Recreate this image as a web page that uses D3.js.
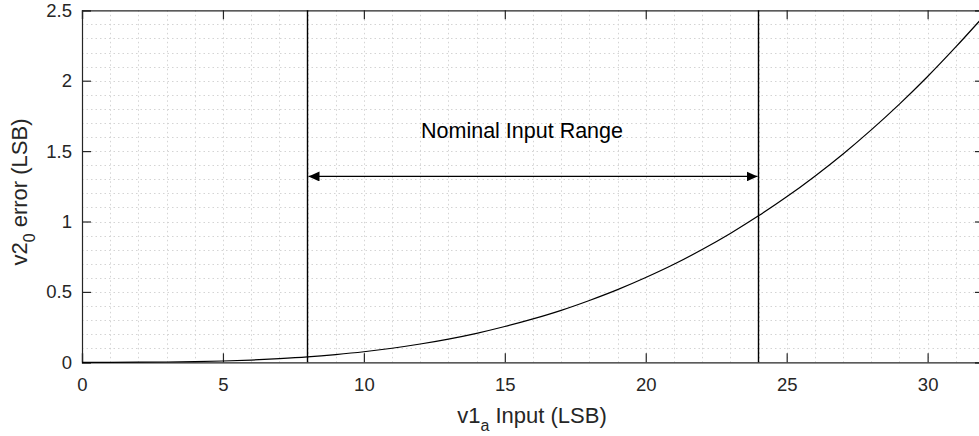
<!DOCTYPE html>
<html>
<head>
<meta charset="utf-8">
<script src="https://cdn.jsdelivr.net/npm/d3@7"></script>
<style>
  body { margin: 0; background: #fff; }
  text { font-family: "Liberation Sans", Arial, sans-serif; fill: #262626; }
</style>
</head>
<body>
<script>
// values
const xInput = [0, 1, 2, 3, 4, 5, 6, 7, 8, 9, 10, 11, 12, 13, 14, 15, 16,
    17, 18, 19, 20, 21, 22, 23, 24, 25, 26, 27, 28, 29, 30, 31, 32];
const errLsb = [0, 0.0001, 0.0006, 0.002, 0.0048, 0.0094, 0.016, 0.026, 0.0385,
    0.055, 0.075, 0.100, 0.130, 0.165, 0.206, 0.254, 0.308, 0.369, 0.439, 0.516,
    0.602, 0.696, 0.801, 0.915, 1.04, 1.175, 1.322, 1.48, 1.651, 1.834, 2.03, 2.24, 2.46];
const xTicks = [0, 5, 10, 15, 20, 25, 30];
const yTicks = [0, 0.5, 1, 1.5, 2, 2.5];
const rangeEdges = [8, 24];
const arrowLevel = 1.32;
const labelLevel = 1.59;

let width = 979;
let height = 436;

let svg = d3.select("body")
    .append("svg")
    .attr("width", width)
    .attr("height", height);

let x = d3.scaleLinear().domain([0, 32]).range([82, 984]);
let y = d3.scaleLinear().domain([0, 2.5]).range([362.3, 10.3]);

let x0 = x.range()[0], x1 = x.range()[1];
let y0 = y.range()[0], y1 = y.range()[1];

// minor grid (dotted)
let grid = svg.append("g")
    .attr("stroke", "#d4d4d4")
    .attr("stroke-width", 1)
    .attr("stroke-dasharray", "1.5,3");

grid.selectAll("line.gx")
    .data(d3.range(1, 32))
    .enter()
    .append("line")
    .attr("x1", d => Math.round(x(d)) + 0.5)
    .attr("x2", d => Math.round(x(d)) + 0.5)
    .attr("y1", y1)
    .attr("y2", y0);

grid.selectAll("line.gy")
    .data(d3.range(1, 25).map(d => d / 10))
    .enter()
    .append("line")
    .attr("x1", x0)
    .attr("x2", x1)
    .attr("y1", d => Math.round(y(d)) + 0.5)
    .attr("y2", d => Math.round(y(d)) + 0.5);

// axes
let tickLen = -9;
let tickFont = 18.5;
svg.append("g")
    .attr("transform", "translate(0," + y0 + ")")
    .call(d3.axisBottom(x).tickValues(xTicks).tickSize(tickLen).tickPadding(15.5).tickFormat(d3.format("")))
    .call(g => g.selectAll("text").attr("font-size", tickFont));

svg.append("g")
    .attr("transform", "translate(0," + y1 + ")")
    .call(d3.axisTop(x).tickValues(xTicks).tickSize(tickLen).tickFormat(""));

svg.append("g")
    .attr("transform", "translate(" + x0 + ",0)")
    .call(d3.axisLeft(y).tickValues(yTicks).tickSize(tickLen).tickPadding(10).tickFormat(d3.format("")))
    .call(g => g.selectAll("text").attr("font-size", tickFont));

svg.append("g")
    .attr("transform", "translate(" + x1 + ",0)")
    .call(d3.axisRight(y).tickValues(yTicks).tickSize(tickLen).tickFormat(""));

svg.selectAll(".domain, .tick line")
    .attr("stroke", "#262626")
    .attr("stroke-width", 1.2);
svg.selectAll(".tick text")
    .attr("font-family", "Liberation Sans, Arial, sans-serif")
    .style("fill", "#262626");

// curve
let line = d3.line()
    .x((d, i) => x(xInput[i]))
    .y(d => y(d))
    .curve(d3.curveMonotoneX);

svg.append("path")
    .datum(errLsb)
    .attr("d", line)
    .attr("fill", "none")
    .attr("stroke", "#000")
    .attr("stroke-width", 1.2);

// nominal range lines
svg.selectAll("line.edge")
    .data(rangeEdges)
    .enter()
    .append("line")
    .attr("x1", d => x(d))
    .attr("x2", d => x(d))
    .attr("y1", y1)
    .attr("y2", y0)
    .attr("stroke", "#000")
    .attr("stroke-width", 1.4);

// double arrow
svg.append("defs").append("marker")
    .attr("id", "head")
    .attr("viewBox", "0 0 11 10")
    .attr("refX", 11)
    .attr("refY", 5)
    .attr("markerWidth", 11)
    .attr("markerHeight", 10)
    .attr("markerUnits", "userSpaceOnUse")
    .attr("orient", "auto-start-reverse")
    .append("path")
    .attr("d", "M0,0 L11,5 L0,10 Z")
    .attr("fill", "#000");

svg.append("line")
    .attr("x1", x(rangeEdges[0]) + 1)
    .attr("x2", x(rangeEdges[1]) - 1)
    .attr("y1", y(arrowLevel))
    .attr("y2", y(arrowLevel))
    .attr("stroke", "#000")
    .attr("stroke-width", 1.2)
    .attr("marker-start", "url(#head)")
    .attr("marker-end", "url(#head)");

svg.append("text")
    .attr("x", 522)
    .attr("y", y(labelLevel))
    .attr("text-anchor", "middle")
    .attr("font-size", 21.5)
    .style("fill", "#000")
    .text("Nominal Input Range");

// axis titles
let xt = svg.append("text")
    .attr("x", 532)
    .attr("y", 423)
    .attr("text-anchor", "middle")
    .attr("font-size", 22);
xt.append("tspan").text("v1");
xt.append("tspan").attr("font-size", 16).attr("dy", 8).text("a");
xt.append("tspan").attr("dy", -8).text(" Input (LSB)");

let yt = svg.append("text")
    .attr("transform", "translate(27," + 192 + ") rotate(-90)")
    .attr("text-anchor", "middle")
    .attr("font-size", 22);
yt.append("tspan").text("v2");
yt.append("tspan").attr("font-size", 16).attr("dy", 8).text("0");
yt.append("tspan").attr("dy", -8).text(" error (LSB)");
</script>
</body>
</html>
